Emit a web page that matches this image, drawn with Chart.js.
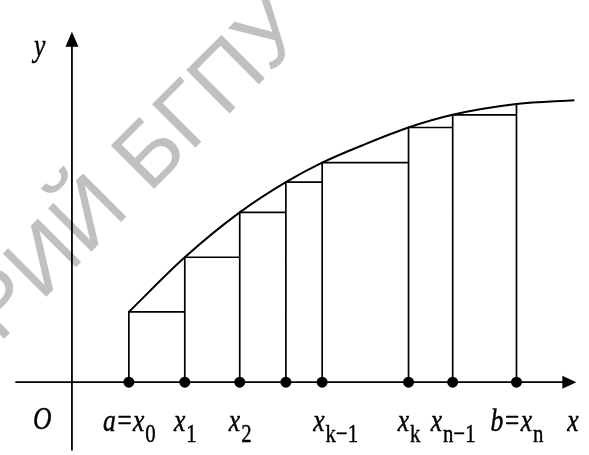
<!DOCTYPE html>
<html>
<head>
<meta charset="utf-8">
<script src="https://cdn.jsdelivr.net/npm/chart.js@4"></script>
<style>
  html, body { margin: 0; padding: 0; background: #fff; }
  #wrap { width: 589px; height: 455px; }
</style>
</head>
<body>
<div id="wrap"><canvas id="c" width="589" height="455"></canvas></div>
<script>
// ---- data (units: 1 unit on each axis) ----
const nodeX = [5.8, 11.5, 17.1, 21.8, 25.5, 34.3, 38.8, 45.3];      // partition points x0..xn
const nodeY = [7.2, 12.8, 17.4, 20.5, 22.5, 26.1, 27.4, 28.5];      // f(x_i)
const curveX = [5.8, 11.5, 17.1, 21.8, 25.5, 29.9, 34.3, 38.8, 45.3, 51.2];
const curveY = [7.2, 12.8, 17.4, 20.5, 22.5, 24.4, 26.1, 27.4, 28.5, 28.9];
const labelMain = ['a=x', 'x', 'x', '', 'x', 'x', 'x', 'b=x'];
const labelSub  = ['0', '1', '2', '', 'k\u22121', 'k', 'n\u22121', 'n'];
const axisNames = { x: 'x', y: 'y', origin: 'O' };
const xAxisRange = [-5.77, 51.4];
const yAxisRange = [-7.0, 35.9];
const watermark = ['РЕПОЗИТОРИЙ ', 'БГПУ'];

// ---- build datasets ----
const curveData = curveX.map((x, i) => ({ x, y: curveY[i] }));
const stepData = [];
for (let i = 0; i < nodeX.length; i++) {
  stepData.push({ x: nodeX[i], y: 0 });
  stepData.push({ x: nodeX[i], y: nodeY[i] });
  if (i + 1 < nodeX.length) stepData.push({ x: nodeX[i + 1], y: nodeY[i] });
  stepData.push({ x: nodeX[i], y: null });
}
const dotData = nodeX.map(x => ({ x, y: 0 }));

const SERIF = '"Liberation Serif", "Times New Roman", serif';
const SX = 0.8;

const decor = {
  id: 'decor',
  beforeDatasetsDraw(chart) {
    const { ctx } = chart;
    const xs = chart.scales.x, ys = chart.scales.y;
    // watermark
    ctx.save();
    ctx.translate(149, 194);
    ctx.rotate(-Math.PI / 4);
    ctx.fillStyle = '#c0c0c0';
    ctx.font = '89px "Liberation Sans", Arial, sans-serif';
    ctx.textBaseline = 'alphabetic';
    ctx.textAlign = 'right';
    ctx.fillText(watermark[0], 0, 0);
    ctx.textAlign = 'left';
    ctx.fillText(watermark[1], 0, 0);
    ctx.restore();

    // axes
    const x0 = xs.getPixelForValue(0), y0 = ys.getPixelForValue(0);
    const xa = xs.getPixelForValue(xAxisRange[0]), xb = xs.getPixelForValue(xAxisRange[1]);
    const ya = ys.getPixelForValue(yAxisRange[0]), yb = ys.getPixelForValue(yAxisRange[1]);
    ctx.save();
    ctx.strokeStyle = '#000';
    ctx.fillStyle = '#000';
    ctx.lineWidth = 1.8;
    ctx.beginPath();
    ctx.moveTo(xa, y0); ctx.lineTo(xb - 10, y0);
    ctx.moveTo(x0, ya); ctx.lineTo(x0, yb + 10);
    ctx.stroke();
    // arrowheads
    ctx.beginPath();
    ctx.moveTo(xb, y0); ctx.lineTo(xb - 14, y0 - 6.5); ctx.lineTo(xb - 14, y0 + 6.5); ctx.closePath();
    ctx.moveTo(x0, yb); ctx.lineTo(x0 - 6.5, yb + 15); ctx.lineTo(x0 + 6.5, yb + 15); ctx.closePath();
    ctx.fill();
    ctx.restore();
  },
  afterDatasetsDraw(chart) {
    const { ctx } = chart;
    const xs = chart.scales.x, ys = chart.scales.y;
    const x0 = xs.getPixelForValue(0), y0 = ys.getPixelForValue(0);
    const mainFont = 'italic 32px ' + SERIF;
    const subFont = '26px ' + SERIF;
    const base = y0 + 49, subBase = y0 + 60;
    ctx.save();
    ctx.fillStyle = '#000';
    ctx.strokeStyle = '#000';
    ctx.lineWidth = 0.45;
    ctx.lineJoin = 'round';
    ctx.textBaseline = 'alphabetic';
    ctx.textAlign = 'left';
    function drawScaled(text, font, left, baseline) {
      ctx.save();
      ctx.font = font;
      ctx.translate(left, baseline);
      ctx.scale(SX, 1);
      ctx.fillText(text, 0, 0);
      ctx.strokeText(text, 0, 0);
      ctx.restore();
      ctx.font = font;
      return ctx.measureText(text).width * SX;
    }
    function width(text, font) { ctx.font = font; return ctx.measureText(text).width * SX; }
    const shifts = { 4: 13 };
    for (let i = 0; i < nodeX.length; i++) {
      if (!labelMain[i]) continue;
      const total = width(labelMain[i], mainFont) + width(labelSub[i], subFont);
      const px = xs.getPixelForValue(nodeX[i]);
      let left = px - total / 2 + (shifts[i] || 0);
      left += drawScaled(labelMain[i], mainFont, left, base);
      drawScaled(labelSub[i], subFont, left + 1, subBase);
    }
    // axis names
    drawScaled(axisNames.origin, mainFont, x0 - 39, base - 2);
    drawScaled(axisNames.x, mainFont, xs.getPixelForValue(xAxisRange[1]) - 9, base);
    drawScaled(axisNames.y, mainFont, x0 - 38, ys.getPixelForValue(yAxisRange[1]) + 24);
    ctx.restore();
  }
};

new Chart(document.getElementById('c'), {
  type: 'scatter',
  data: {
    datasets: [
      { data: curveData, showLine: true, borderColor: '#000', borderWidth: 2,
        pointRadius: 0, cubicInterpolationMode: 'monotone', fill: false },
      { data: stepData, showLine: true, borderColor: '#000', borderWidth: 1.7,
        pointRadius: 0, spanGaps: false, tension: 0, fill: false },
      { data: dotData, showLine: false, pointRadius: 5.5, pointBackgroundColor: '#000',
        pointBorderColor: '#000', pointBorderWidth: 0 }
    ]
  },
  options: {
    responsive: false,
    animation: false,
    layout: { padding: 0 },
    plugins: { legend: { display: false }, tooltip: { enabled: false } },
    scales: {
      x: { type: 'linear', display: false, min: -6.77, max: 52.13 },
      y: { type: 'linear', display: false, min: -6.9, max: 38.6 }
    },
    clip: false
  },
  plugins: [decor]
});
</script>
</body>
</html>
